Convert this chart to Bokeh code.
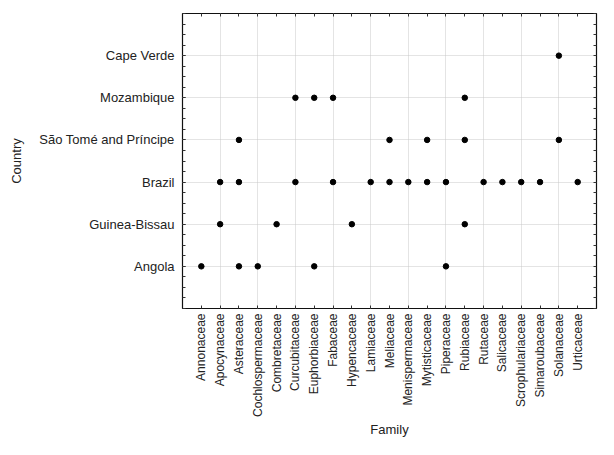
import math
from bokeh.plotting import figure
from bokeh.models import FixedTicker, LinearAxis, Range1d
from bokeh.embed import file_html
from bokeh.resources import INLINE

families = ["Annonaceae", "Apocynaceae", "Asteraceae", "Cochlospermaceae", "Combretaceae",
            "Curcubitaceae", "Euphorbiaceae", "Fabaceae", "Hypencaceae", "Lamiaceae",
            "Meliaceae", "Menispermaceae", "Mytisticaceae", "Piperaceae", "Rubiaceae",
            "Rutaceae", "Salicaceae", "Scrophulariaceae", "Simaroubaceae", "Solanaceae",
            "Urticaceae"]
countries = ["Angola", "Guinea-Bissau", "Brazil", "São Tomé and Príncipe", "Mozambique", "Cape Verde"]

angola = ["Annonaceae", "Asteraceae", "Cochlospermaceae", "Euphorbiaceae", "Piperaceae"]
guinea_bissau = ["Apocynaceae", "Combretaceae", "Hypencaceae", "Rubiaceae"]
brazil = ["Apocynaceae", "Asteraceae", "Curcubitaceae", "Fabaceae", "Lamiaceae", "Meliaceae",
          "Menispermaceae", "Mytisticaceae", "Piperaceae", "Rutaceae", "Salicaceae",
          "Scrophulariaceae", "Simaroubaceae", "Urticaceae"]
sao_tome = ["Asteraceae", "Meliaceae", "Mytisticaceae", "Rubiaceae", "Solanaceae"]
mozambique = ["Curcubitaceae", "Euphorbiaceae", "Fabaceae", "Rubiaceae"]
cape_verde = ["Solanaceae"]

records = {
    "Angola": angola,
    "Guinea-Bissau": guinea_bissau,
    "Brazil": brazil,
    "São Tomé and Príncipe": sao_tome,
    "Mozambique": mozambique,
    "Cape Verde": cape_verde,
}

xs, ys = [], []
for c, fams in records.items():
    for f in fams:
        xs.append(families.index(f) + 1)
        ys.append(countries.index(c) + 1)

FONT = "Liberation Sans"
TXT = "#222222"

p = figure(width=598, height=439, output_backend="svg", toolbar_location=None,
           x_range=Range1d(0, len(families) + 1), y_range=Range1d(0, len(countries) + 1),
           min_border_top=13, min_border_right=2, min_border_left=182, min_border_bottom=0,
           x_axis_label="Family", y_axis_label="Country")

xt = list(range(1, len(families) + 1))
yt = list(range(1, len(countries) + 1))
yminor = [i * 0.25 for i in range(0, 4 * (len(countries) + 1) + 1)]

p.xaxis.ticker = FixedTicker(ticks=xt, minor_ticks=[])
p.yaxis.ticker = FixedTicker(ticks=yt, minor_ticks=yminor)
p.xaxis.major_label_overrides = {i + 1: f for i, f in enumerate(families)}
p.yaxis.major_label_overrides = {i + 1: c for i, c in enumerate(countries)}
p.xaxis.major_label_orientation = math.pi / 2

for ax in (p.xaxis[0], p.yaxis[0]):
    ax.axis_line_color = None
    ax.major_tick_in = 3
    ax.major_tick_out = 0
    ax.minor_tick_in = 3
    ax.minor_tick_out = 0
    ax.major_tick_line_color = "#333333"
    ax.minor_tick_line_color = "#333333"
    ax.major_label_text_font = FONT
    ax.major_label_text_color = TXT
    ax.axis_label_text_font = FONT
    ax.axis_label_text_font_size = "13px"
    ax.axis_label_text_font_style = "normal"
    ax.axis_label_text_color = TXT

p.yaxis.major_label_text_font_size = "13px"
p.xaxis.major_label_text_font_size = "12px"
p.xaxis.major_label_standoff = 5
p.xaxis.axis_label_standoff = 2
p.yaxis.major_label_standoff = 8
p.yaxis.axis_label_standoff = 12

# mirrored ticks on top and right (drawn as minor ticks only, no labels)
top = LinearAxis(ticker=FixedTicker(ticks=[], minor_ticks=xt))
right = LinearAxis(ticker=FixedTicker(ticks=[], minor_ticks=yminor))
for ax in (top, right):
    ax.axis_line_color = None
    ax.major_tick_in = 0
    ax.major_tick_out = 0
    ax.minor_tick_in = 3
    ax.minor_tick_out = 0
    ax.minor_tick_line_color = "#333333"
    ax.major_label_standoff = 0
p.add_layout(top, "above")
p.add_layout(right, "right")

p.xgrid.ticker = FixedTicker(ticks=[i for i in xt if i % 2 == 0])
p.ygrid.ticker = FixedTicker(ticks=yt)
for g in (p.xgrid[0], p.ygrid[0]):
    g.grid_line_color = "#c8c8c8"
    g.grid_line_dash = "1 1"
    g.grid_line_width = 1

p.outline_line_color = "#111111"
p.outline_line_width = 1.2
p.outline_line_alpha = 1

p.scatter(xs, ys, size=5.5, color="black")

open("out.html", "w").write(file_html(p, INLINE))
